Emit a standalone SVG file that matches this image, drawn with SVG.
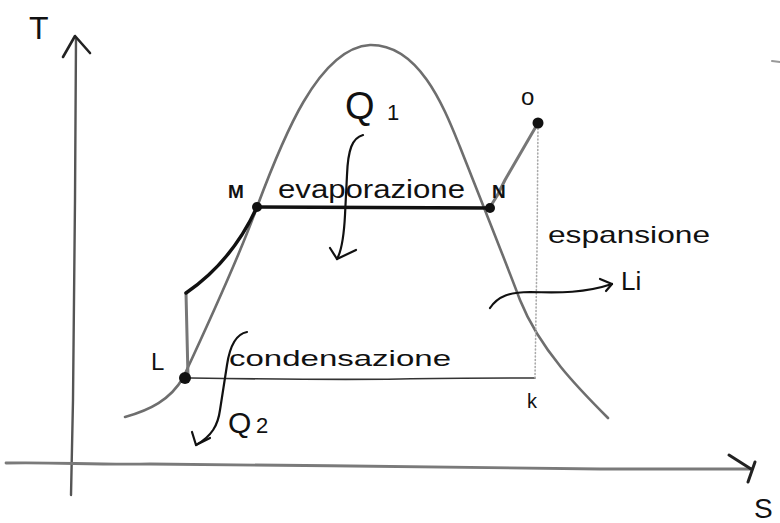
<svg xmlns="http://www.w3.org/2000/svg" width="780" height="523" viewBox="0 0 780 523">
<style>
.lbl{font-family:"Liberation Sans",Arial,sans-serif;fill:#111}
.hand{font-family:"Liberation Sans",Arial,sans-serif;fill:#111}
.ln{fill:none;stroke-linecap:round;stroke-linejoin:round}
.dome{stroke:#6e6e6e;stroke-width:2.6}
.thick{stroke:#111;stroke-width:3.4}
.thin{stroke:#333;stroke-width:1.6}
.gray{stroke:#777;stroke-width:3}
.dot{stroke:#aaa;stroke-width:1.6;stroke-dasharray:1 2.5}
.arr{stroke:#111;stroke-width:2.2}
.pt{fill:#111}
</style>
<rect width="780" height="523" fill="#fff"/>
<g id="axes">
  <path class="ln" d="M76,38 L75,200 L73,400 L71,495" stroke="#555" stroke-width="2.4"/>
  <path class="ln" d="M63,57 L75,36 L90,53" stroke="#222" stroke-width="2.6"/>
  <path class="ln" d="M6,463 C60,462 90,465 150,464 C300,466 450,466 600,469 L752,469" stroke="#7a7a7a" stroke-width="2.8"/>
  <path class="ln" d="M729,455 L751,469 M755,462 L748,482" stroke="#222" stroke-width="3"/>
  <text class="lbl" x="29" y="39" font-size="32">T</text>
  <text class="lbl" x="754" y="518" font-size="28">S</text>
  <path class="ln" d="M772,61 L780,62" stroke="#999" stroke-width="2"/>
</g>
<g id="connectors">
  <path id="dome" class="ln dome" d="M125,417 C150,410 170,400 183,378 C210,320 240,255 257,207 C282,140 318,48 370,45 C420,44 445,110 460,147 C475,185 505,260 520,300 C540,350 580,390 608,418"/>
  <path id="evap" class="ln thick" d="M257,207 L490,208"/>
  <path id="cond" class="ln thin" d="M188,378 C260,379 330,380 400,379 C450,378 500,378 535,378"/>
  <path id="pump" class="ln gray" d="M188,377 L186,293"/>
  <path id="heat" class="ln thick" d="M186,293 C205,280 235,255 257,207"/>
  <path id="superheat" class="ln gray" d="M538,123 L505,180 L497,196 L490,207"/>
  <path id="expansion" class="ln dot" d="M538,125 L537,250 L535,378"/>
  <path id="q1arrow" class="ln arr" d="M363,135 C352,138 348,150 347,175 L345,215 C344,235 342,250 337,259"/>
  <path class="ln arr" d="M330,248 L337,259 L356,250"/>
  <path id="q2arrow" class="ln arr" d="M247,332 C236,334 230,345 227,365 L220,410 C218,425 212,436 196,445"/>
  <path class="ln arr" d="M192,432 L196,445 L210,438"/>
  <path id="liarrow" class="ln arr" d="M490,308 C498,296 510,292 530,292 C560,293 585,293 612,284"/>
  <path class="ln arr" d="M600,279 L612,284 L606,291"/>
</g>
<g id="node-L">
  <circle class="pt" cx="185" cy="378" r="6"/>
  <text class="lbl" x="151" y="370" font-size="24">L</text>
</g>
<g id="node-M">
  <circle class="pt" cx="257" cy="207" r="5"/>
  <text class="lbl" x="228" y="198" font-size="19" font-weight="bold">M</text>
</g>
<g id="node-N">
  <circle class="pt" cx="490" cy="208" r="5"/>
  <text class="lbl" x="492" y="198" font-size="19" font-weight="bold">N</text>
</g>
<g id="node-O">
  <circle class="pt" cx="538" cy="123" r="5.5"/>
  <text class="lbl" x="521" y="105" font-size="24">o</text>
</g>
<g id="node-K">
  <text class="lbl" x="527" y="408" font-size="20">k</text>
</g>
<g id="labels">
  <text class="hand" x="278" y="198" font-size="25" textLength="187" lengthAdjust="spacingAndGlyphs">evaporazione</text>
  <text class="hand" x="548" y="243" font-size="24" textLength="162" lengthAdjust="spacingAndGlyphs">espansione</text>
  <text class="hand" x="621" y="290" font-size="26">Li</text>
  <text class="hand" x="229" y="366" font-size="22" textLength="222" lengthAdjust="spacingAndGlyphs">condensazione</text>
  <text class="hand" x="345" y="119" font-size="38">Q</text>
  <text class="hand" x="387" y="120" font-size="22">1</text>
  <text class="hand" x="228" y="433" font-size="30">Q</text>
  <text class="hand" x="256" y="433" font-size="22">2</text>
</g>
</svg>
